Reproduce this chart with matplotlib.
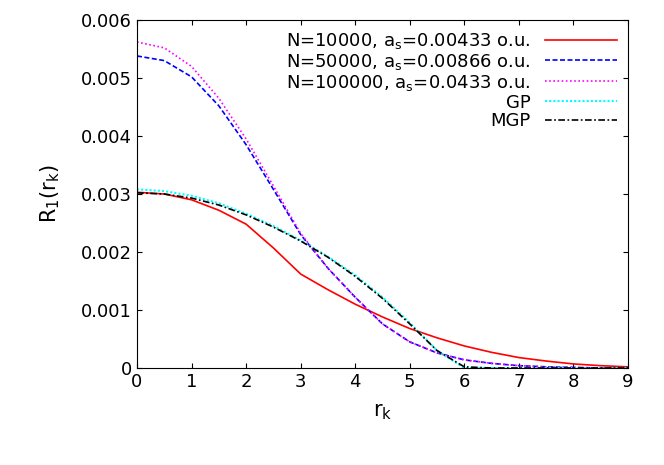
import matplotlib
matplotlib.use("Agg")
import matplotlib.pyplot as plt
import numpy as np

r = np.arange(0, 9.01, 0.5)
red = [3.03,3.00,2.90,2.72,2.48,2.07,1.62,1.35,1.10,0.88,0.68,0.52,0.38,0.27,0.18,0.12,0.07,0.04,0.02]
blue = [5.38,5.30,5.02,4.52,3.85,3.08,2.30,1.72,1.22,0.76,0.45,0.26,0.14,0.08,0.04,0.02,0.01,0,0]
mag = [5.62,5.52,5.20,4.65,3.95,3.14,2.32,1.72,1.22,0.76,0.45,0.26,0.14,0.08,0.04,0.02,0.01,0,0]
gp = [3.08,3.05,2.97,2.84,2.66,2.45,2.20,1.92,1.60,1.22,0.78,0.30,0.0,0,0,0,0,0,0]
mgp = [3.02,3.00,2.93,2.81,2.64,2.43,2.19,1.91,1.58,1.20,0.76,0.30,0.02,0,0,0,0,0,0]
labels = ["N=10000, a$_\\mathrm{s}$=0.00433 o.u.", "N=50000, a$_\\mathrm{s}$=0.00866 o.u.",
          "N=100000, a$_\\mathrm{s}$=0.0433 o.u.", "GP", "MGP"]

fig = plt.figure(figsize=(6.64, 4.65), dpi=100)
ax = fig.add_axes([137/664, 1-368/465, 491/664, 348/465])
sc = 1e-3
ax.plot(r, np.array(red)*sc, color="red", lw=1.2, label=labels[0])
ax.plot(r, np.array(blue)*sc, color="blue", lw=1.2, ls=(0, (3, 1.5)), label=labels[1])
ax.plot(r, np.array(mag)*sc, color="magenta", lw=1.2, ls=(0, (1, 1.5)), label=labels[2])
ax.plot(r, np.array(gp)*sc, color="cyan", lw=1.5, ls=(0, (1, 1)), label=labels[3])
ax.plot(r, np.array(mgp)*sc, color="black", lw=1.2, ls=(0, (4, 1.5, 1, 1.5)), label=labels[4])
ax.set_xlim(0, 9); ax.set_ylim(0, 0.006)
ax.set_xticks(range(10)); ax.set_yticks([0,0.001,0.002,0.003,0.004,0.005,0.006])
ax.set_yticklabels(["0","0.001","0.002","0.003","0.004","0.005","0.006"])
ax.tick_params(labelsize=13, direction="in", top=True, right=True)
ax.set_xlabel("r$_\\mathrm{k}$", fontsize=15, labelpad=8)
ax.set_ylabel("R$_\\mathrm{1}$(r$_\\mathrm{k}$)", fontsize=15, labelpad=14)
leg = ax.legend(loc="upper right", frameon=False, fontsize=13, markerfirst=False,
                handlelength=4, borderpad=0.1, labelspacing=0.05, handletextpad=0.8)
for t in leg.get_texts():
    t.set_ha("right")
fig.savefig("out.png", dpi=100)
